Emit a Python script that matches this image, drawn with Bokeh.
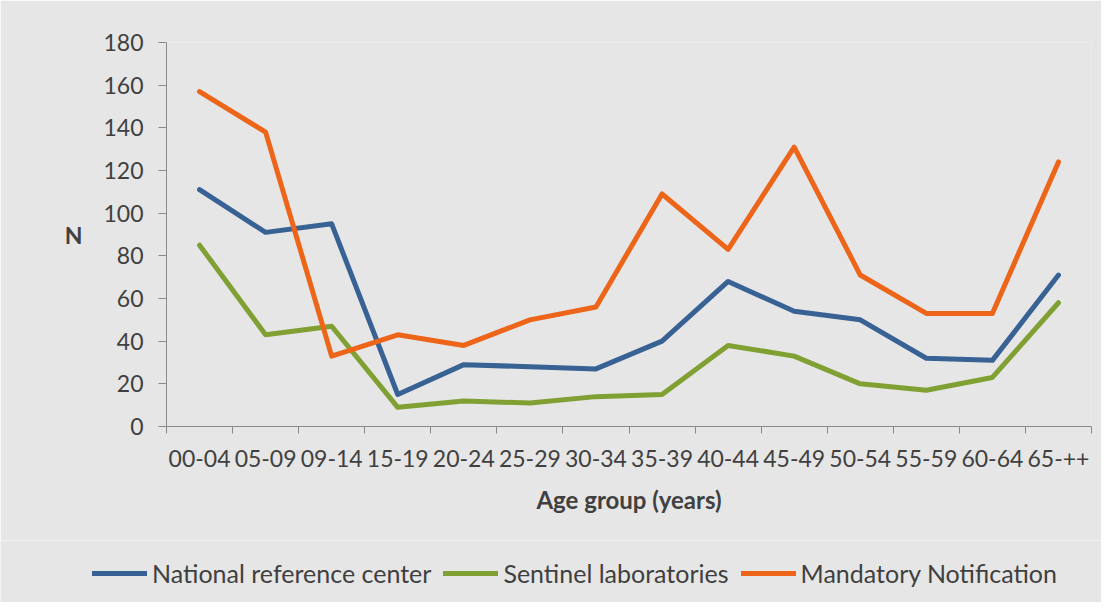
from bokeh.plotting import figure
from bokeh.layouts import column
from bokeh.models import Range1d, FixedTicker, Legend, LegendItem
from bokeh.embed import file_html
from bokeh.resources import INLINE

categories = ["00-04", "05-09", "09-14", "15-19", "20-24", "25-29", "30-34",
              "35-39", "40-44", "45-49", "50-54", "55-59", "60-64", "65-++"]
national = [111, 91, 95, 15, 29, 28, 27, 40, 68, 54, 50, 32, 31, 71]
sentinel = [85, 43, 47, 9, 12, 11, 14, 15, 38, 33, 20, 17, 23, 58]
mandatory = [157, 138, 33, 43, 38, 50, 56, 109, 83, 131, 71, 53, 53, 124]
y_ticks = [0, 20, 40, 60, 80, 100, 120, 140, 160, 180]

series_names = ["National reference center", "Sentinel laboratories", "Mandatory Notification"]
series_colors = ["#386194", "#80A033", "#EC6519"]
series_values = [national, sentinel, mandatory]

FONT = "Lato"
TXT = "#404040"
AX = "#898989"
BG = "#E6E6E6"

xs = [i + 0.5 for i in range(len(categories))]

# ---- main chart ----
p1 = figure(width=1101, height=540, output_backend="svg", toolbar_location=None,
            x_range=Range1d(0, len(categories)), y_range=Range1d(0, 180),
            min_border_left=166, min_border_right=10, min_border_top=42,
            min_border_bottom=114)
p1.frame_align = False
p1.background_fill_color = BG
p1.border_fill_color = BG
p1.outline_line_color = None
p1.xgrid.visible = False
p1.ygrid.visible = False

for vals, col in zip(series_values, series_colors):
    p1.line(xs, vals, line_color=col, line_width=5, line_cap="round", line_join="round")

xa = p1.xaxis[0]
xa.ticker = FixedTicker(ticks=xs, minor_ticks=list(range(len(categories) + 1)))
xa.major_label_overrides = {x: c for x, c in zip(xs, categories)}
xa.major_tick_out = 0
xa.major_tick_in = 0
xa.minor_tick_out = 7
xa.minor_tick_in = 0
xa.minor_tick_line_color = AX
xa.axis_line_color = AX
xa.major_label_text_font = FONT
xa.major_label_text_font_size = "23px"
xa.major_label_text_color = TXT
xa.major_label_standoff = 16
xa.axis_label = "Age group (years)"
xa.axis_label_text_font = FONT
xa.axis_label_text_font_size = "24px"
xa.axis_label_text_font_style = "bold"
xa.axis_label_text_color = TXT
xa.axis_label_standoff = 15

ya = p1.yaxis[0]
ya.ticker = FixedTicker(ticks=y_ticks, minor_ticks=[])
ya.major_tick_out = 8
ya.major_tick_in = 0
ya.minor_tick_out = 0
ya.minor_tick_in = 0
ya.major_tick_line_color = AX
ya.axis_line_color = AX
ya.major_label_text_font = FONT
ya.major_label_text_font_size = "23px"
ya.major_label_text_color = TXT
ya.major_label_standoff = 15
ya.axis_label = "N"
ya.axis_label_orientation = "horizontal"
ya.axis_label_text_font = FONT
ya.axis_label_text_font_size = "23px"
ya.axis_label_text_font_style = "bold"
ya.axis_label_text_color = TXT
ya.axis_label_standoff = 18

# ---- legend strip (series drawn out of view, only the legend shows) ----
p2 = figure(width=1101, height=62, output_backend="svg", toolbar_location=None,
            x_range=Range1d(0, len(categories)), y_range=Range1d(1000, 1001),
            x_axis_type=None, y_axis_type=None,
            min_border_left=0, min_border_right=0, min_border_top=0, min_border_bottom=0)
p2.frame_align = False
p2.background_fill_color = BG
p2.border_fill_color = BG
p2.outline_line_color = None
p2.xgrid.visible = False
p2.ygrid.visible = False

leg_renderers = []
for vals, col in zip(series_values, series_colors):
    r = p2.line(xs, vals, line_color=col, line_width=5, line_cap="round", line_join="round")
    leg_renderers.append(r)

legend = Legend(
    items=[LegendItem(label=n, renderers=[r]) for n, r in zip(series_names, leg_renderers)],
    orientation="horizontal", location=(92, 14),
    glyph_width=55, glyph_height=20, label_standoff=5, spacing=12,
    padding=0, margin=0, border_line_color=None, background_fill_alpha=0,
    label_text_font=FONT, label_text_font_size="25px", label_text_color=TXT,
)
p2.add_layout(legend)

p = column(p1, p2, spacing=0)
open("out.html", "w").write(file_html(p, INLINE))
